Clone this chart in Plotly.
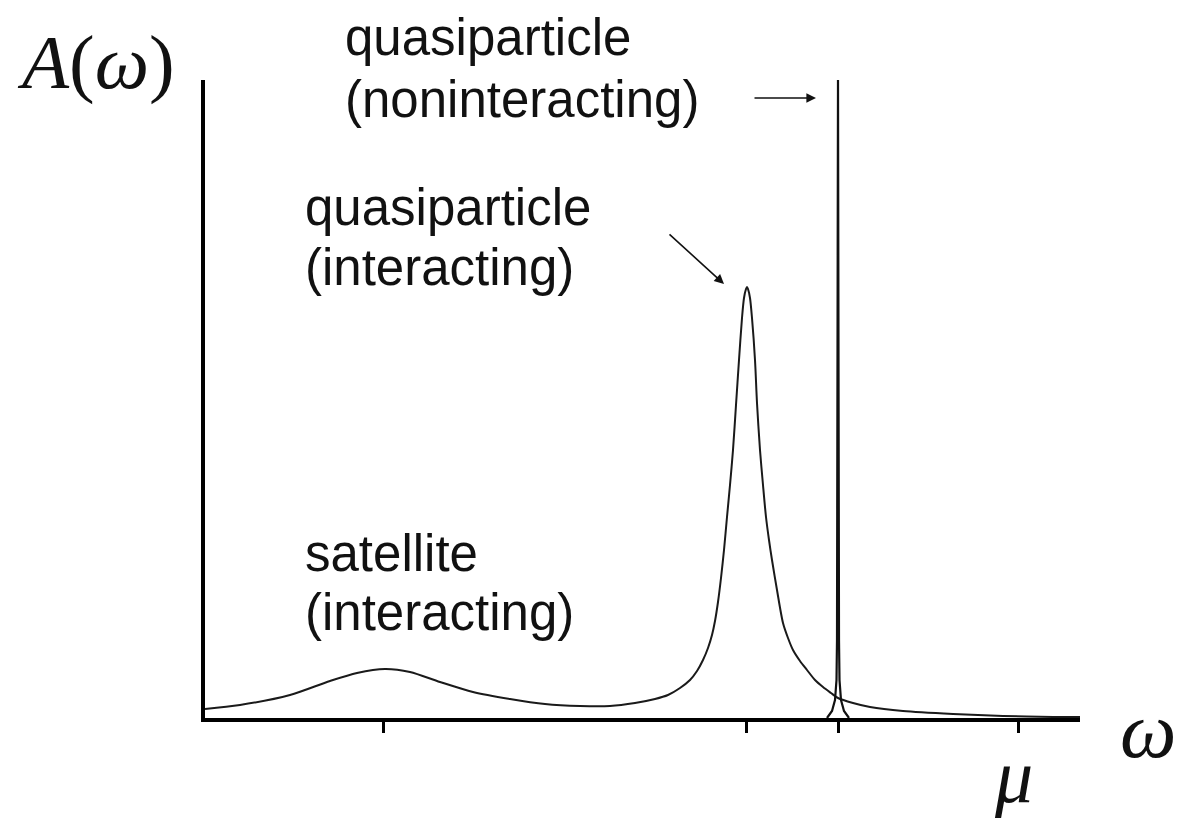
import plotly.graph_objects as go

# ---- data (ω relative to μ, arbitrary units) ----
omega_interacting = [-6.33, -5.98, -5.48, -5.08, -4.81, -4.53, -4.28, -3.98, -3.65, -3.28,
                     -2.93, -2.58, -2.28, -2.03, -1.83, -1.70, -1.58, -1.48, -1.41, -1.35,
                     -1.30, -1.26, -1.23, -1.20, -1.17, -1.14, -1.11, -1.08, -1.05, -1.02, -0.99,
                     -0.96, -0.94, -0.92, -0.91, -0.90, -0.88, -0.86, -0.83, -0.81, -0.78,
                     -0.75, -0.72, -0.69, -0.66, -0.61, -0.55, -0.50, -0.45, -0.38,
                     -0.31, -0.23, -0.15, -0.07, 0.00, 0.15, 0.32, 0.65, 1.15, 1.65, 2.15, 2.42]
A_interacting = [0.09, 0.13, 0.23, 0.37, 0.45, 0.49, 0.46, 0.36, 0.26, 0.19,
                 0.14, 0.12, 0.12, 0.15, 0.19, 0.23, 0.30, 0.38, 0.47, 0.58,
                 0.70, 0.83, 0.97, 1.16, 1.40, 1.68, 2.01, 2.33, 2.68, 3.13, 3.58,
                 4.00, 4.20, 4.29, 4.31, 4.29, 4.20, 4.00, 3.58, 3.15, 2.68,
                 2.33, 2.01, 1.78, 1.58, 1.28, 0.95, 0.80, 0.68, 0.57,
                 0.48, 0.38, 0.31, 0.25, 0.20, 0.15, 0.11, 0.07, 0.04, 0.02, 0.01, 0.01]

omega_free = [-0.11, -0.06, -0.03, -0.015, -0.01, 0.0, 0.01, 0.015, 0.03, 0.06, 0.11]
A_free = [0.0, 0.07, 0.18, 0.38, 0.78, 6.38, 0.78, 0.38, 0.18, 0.07, 0.0]

tick_positions = [-4.55, -0.92, 0.0, 1.80]

X_RANGE = [-6.33, 2.42]
Y_RANGE = [0.0, 6.38]

fig = go.Figure()
fig.add_trace(go.Scatter(x=omega_interacting, y=A_interacting, mode="lines",
                         line=dict(color="#1a1a1a", width=2, shape="spline", smoothing=0.8),
                         hoverinfo="skip", showlegend=False))
fig.add_trace(go.Scatter(x=omega_free, y=A_free, mode="lines",
                         line=dict(color="#111111", width=2.2),
                         hoverinfo="skip", showlegend=False))

txt_font = dict(family="Liberation Sans, Arial, sans-serif", size=51, color="#111111")
math_font = dict(family="Liberation Serif, Times New Roman, serif", size=77, color="#111111")
sym_font = dict(family="Liberation Serif, Times New Roman, serif", size=80, color="#111111")
mu_font = dict(family="Liberation Serif, Times New Roman, serif", size=76, color="#111111")

W, H = 1178, 822
L, R, T, B = 205, 98, 80, 104
pw, ph = W - L - R, H - T - B


def pxp(px):
    return (px - L) / pw


def pyp(py):
    return 1 - (py - T) / ph


def px2x(px):
    return X_RANGE[0] + (px - L) / pw * (X_RANGE[1] - X_RANGE[0])


def py2y(py):
    return Y_RANGE[1] - (py - T) / ph * (Y_RANGE[1] - Y_RANGE[0])


labels = [
    ("quasiparticle", 343, 37),
    ("(noninteracting)", 343, 99),
    ("quasiparticle", 303, 207),
    ("(interacting)", 303, 267),
    ("satellite", 303, 553),
    ("(interacting)", 303, 612),
]
for t, lx, cy in labels:
    fig.add_annotation(x=pxp(lx), y=pyp(cy), xref="paper", yref="paper", text=t,
                       showarrow=False, xanchor="left", yanchor="middle", font=txt_font)

fig.add_annotation(x=pxp(96), y=pyp(62), xref="paper", yref="paper",
                   text="<i>A</i>(<i>ω</i>)", showarrow=False, font=math_font,
                   xanchor="center", yanchor="middle")
fig.add_annotation(x=pxp(1148), y=pyp(730), xref="paper", yref="paper",
                   text="<i>ω</i>", showarrow=False, font=sym_font,
                   xanchor="center", yanchor="middle")
fig.add_annotation(x=pxp(1013), y=pyp(776), xref="paper", yref="paper",
                   text="<i>μ</i>", showarrow=False, font=mu_font,
                   xanchor="center", yanchor="middle")

# arrows
fig.add_annotation(x=px2x(816), y=py2y(98), ax=px2x(753), ay=py2y(98),
                   xref="x", yref="y", axref="x", ayref="y", text="",
                   showarrow=True, arrowhead=2, arrowsize=1.2, arrowwidth=1.6, arrowcolor="#111111")
fig.add_annotation(x=px2x(724), y=py2y(284), ax=px2x(668), ay=py2y(233),
                   xref="x", yref="y", axref="x", ayref="y", text="",
                   showarrow=True, arrowhead=2, arrowsize=1.2, arrowwidth=1.6, arrowcolor="#111111")

fig.update_layout(
    width=W, height=H,
    margin=dict(l=L, r=R, t=T, b=B),
    paper_bgcolor="white", plot_bgcolor="white",
    xaxis=dict(range=X_RANGE, showgrid=False, zeroline=False, showline=True,
               linecolor="black", linewidth=4, ticks="outside", ticklen=11,
               tickwidth=3, tickcolor="black", tickvals=tick_positions,
               showticklabels=False, fixedrange=True),
    yaxis=dict(range=Y_RANGE, showgrid=False, zeroline=False, showline=True,
               linecolor="black", linewidth=4, ticks="", showticklabels=False,
               fixedrange=True),
)

fig.write_html("out.html")
